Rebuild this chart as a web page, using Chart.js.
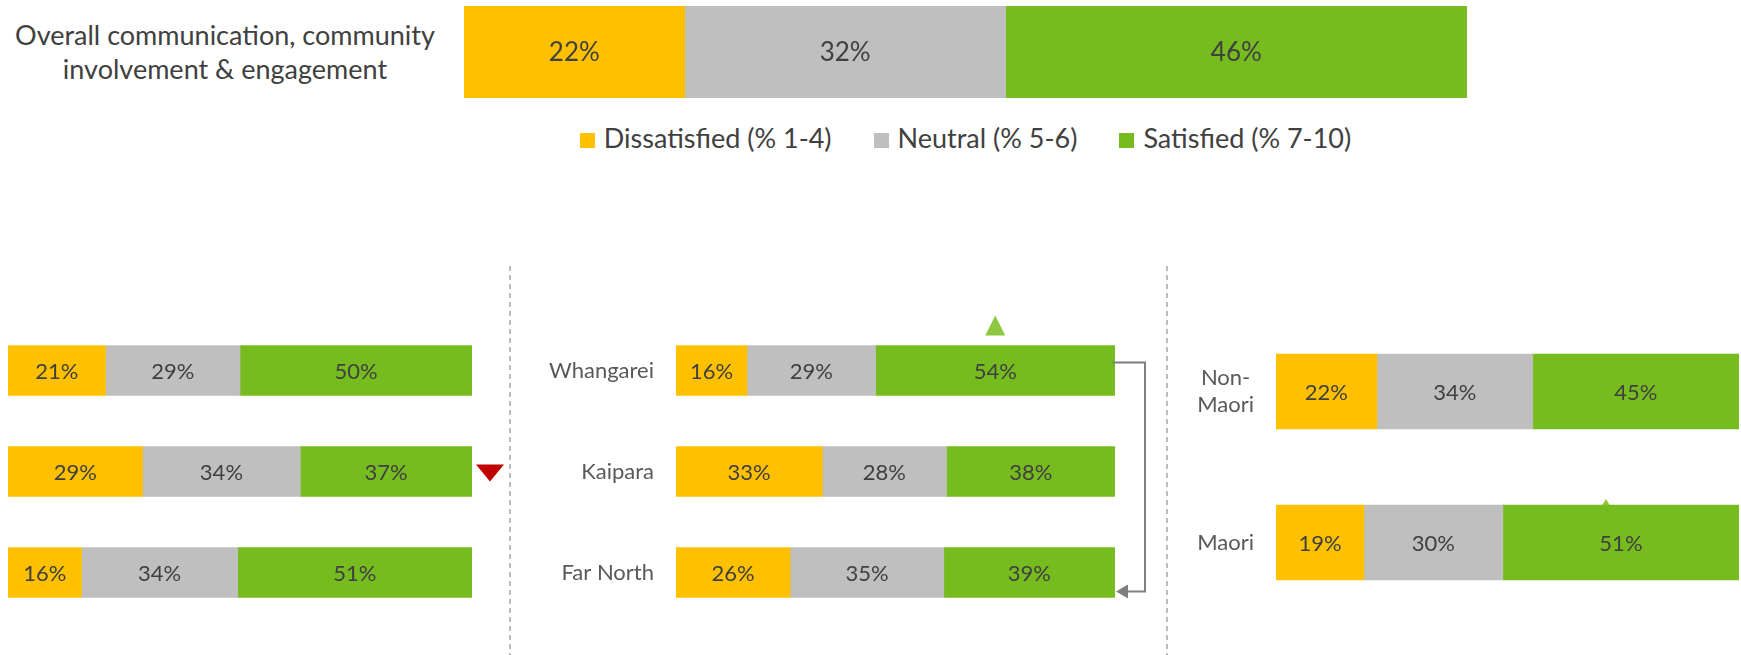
<!DOCTYPE html>
<html>
<head>
<meta charset="utf-8">
<script src="https://cdn.jsdelivr.net/npm/chart.js@4/dist/chart.umd.min.js"></script>
<style>
  body { margin: 0; background: #fff; }
  #page { position: relative; width: 1741px; height: 655px; overflow: hidden; font-family: Lato, sans-serif; color: #404040; }
  #page canvas, #page .txt { position: absolute; }
  #title { left: 0; top: 18px; width: 450px; text-align: center; font-size: 27px; line-height: 34px; }
  #legend { left: 464px; top: 123px; width: 1003px; display: flex; justify-content: center; gap: 42px; font-size: 27px; line-height: 30px; }
  #legend span.sq { display: inline-block; width: 15px; height: 15px; margin-right: 9px; vertical-align: 0px; }
</style>
</head>
<body>
<div id="page">
  <div id="title" class="txt">Overall communication, community<br>involvement &amp; engagement</div>
  <div id="legend" class="txt"></div>
  <canvas id="lines" width="1741" height="655" style="left:0;top:0"></canvas>
  <canvas id="overallChart" width="1003" height="104" style="left:464px;top:0"></canvas>
  <canvas id="leftChart" width="504" height="333" style="left:8px;top:290px"></canvas>
  <canvas id="wardChart" width="635" height="333" style="left:520px;top:290px"></canvas>
  <canvas id="ethnicChart" width="581" height="318" style="left:1160px;top:300px"></canvas>
</div>
<script>
// Data
var segments = ['Dissatisfied (% 1-4)', 'Neutral (% 5-6)', 'Satisfied (% 7-10)'];
var segmentColours = ['#FFC000', '#BFBFBF', '#77BC1F'];

var overallRows = ['Overall'];
var overallDissatisfied = [22];
var overallNeutral = [32];
var overallSatisfied = [46];

var leftRows = ['', '', ''];   // labels are not shown in the picture
var leftDissatisfied = [21, 29, 16];
var leftNeutral = [29, 34, 34];
var leftSatisfied = [50, 37, 51];

var wardRows = ['Whangarei', 'Kaipara', 'Far North'];
var wardDissatisfied = [16, 33, 26];
var wardNeutral = [29, 28, 35];
var wardSatisfied = [54, 38, 39];

var ethnicRows = [['Non-', 'Maori'], 'Maori'];
var ethnicDissatisfied = [22, 19];
var ethnicNeutral = [34, 30];
var ethnicSatisfied = [45, 51];

// legend
var legendEl = document.getElementById('legend');
segments.forEach(function(name, k) {
    var item = document.createElement('div');
    item.innerHTML = '<span class="sq" style="background:' + segmentColours[k] + '"></span>' + name;
    legendEl.appendChild(item);
});

// dashed separators
var lc = document.getElementById('lines').getContext('2d');
lc.strokeStyle = '#A6A6A6';
lc.lineWidth = 1.5;
lc.setLineDash([5, 4]);
[510, 1167].forEach(function(x) {
    lc.beginPath();
    lc.moveTo(x, 266);
    lc.lineTo(x, 655);
    lc.stroke();
});

function triangle(ctx, x, y, w, h, up, colour) {
    ctx.save();
    ctx.fillStyle = colour;
    ctx.beginPath();
    if (up) {
        ctx.moveTo(x - w / 2, y + h);
        ctx.lineTo(x + w / 2, y + h);
        ctx.lineTo(x, y);
    } else {
        ctx.moveTo(x - w / 2, y);
        ctx.lineTo(x + w / 2, y);
        ctx.lineTo(x, y + h);
    }
    ctx.closePath();
    ctx.fill();
    ctx.restore();
}

// percentage labels in the middle of each segment
function valueLabels(size) {
    return {
        id: 'valueLabels',
        afterDatasetsDraw: function(chart) {
            var ctx = chart.ctx;
            ctx.save();
            ctx.fillStyle = '#404040';
            ctx.font = size + 'px Lato';
            ctx.textAlign = 'center';
            ctx.textBaseline = 'middle';
            chart.data.datasets.forEach(function(ds, k) {
                chart.getDatasetMeta(k).data.forEach(function(bar, i) {
                    ctx.fillText(ds.raw[i] + '%', (bar.x + bar.base) / 2, bar.y + 1);
                });
            });
            ctx.restore();
        }
    };
}

function stackedBar(id, rows, dis, neu, sat, cfg) {
    var totals = rows.map(function(r, i) { return dis[i] + neu[i] + sat[i]; });
    var plugins = [valueLabels(cfg.valueSize)];
    if (cfg.marks) plugins.push({ id: 'marks', afterDatasetsDraw: cfg.marks });
    if (cfg.behind) plugins.push({ id: 'behind', beforeDatasetsDraw: cfg.behind });
    return new Chart(document.getElementById(id), {
        type: 'bar',
        data: {
            labels: rows,
            datasets: [dis, neu, sat].map(function(arr, k) {
                return {
                    label: segments[k],
                    data: arr.map(function(v, i) { return v / totals[i] * 100; }),
                    raw: arr,
                    backgroundColor: segmentColours[k],
                    borderWidth: 0,
                    barThickness: cfg.thickness
                };
            })
        },
        options: {
            indexAxis: 'y',
            responsive: false,
            animation: false,
            layout: { padding: cfg.padding },
            scales: {
                x: { stacked: true, min: 0, max: 100, display: false },
                y: {
                    stacked: true,
                    display: !!cfg.axisWidth,
                    grid: { display: false, drawTicks: false },
                    border: { display: false },
                    ticks: {
                        color: '#595959',
                        font: { family: 'Lato', size: 22, lineHeight: 1.2 },
                        padding: 22,
                        crossAlign: cfg.crossAlign || 'near'
                    },
                    afterFit: function(scale) {
                        scale.width = cfg.axisWidth || 0;
                        scale.paddingTop = 0;
                        scale.paddingBottom = 0;
                    }
                }
            },
            plugins: { legend: { display: false }, tooltip: { enabled: false } }
        },
        plugins: plugins
    });
}

stackedBar('overallChart', overallRows, overallDissatisfied, overallNeutral, overallSatisfied, {
    thickness: 92, valueSize: 26,
    padding: { top: 6, bottom: 6, left: 0, right: 0 }
});

stackedBar('leftChart', leftRows, leftDissatisfied, leftNeutral, leftSatisfied, {
    thickness: 50, valueSize: 22,
    padding: { top: 30, bottom: 0, left: 0, right: 40 },
    marks: function(chart) {
        var y = chart.scales.y.getPixelForValue(1);
        triangle(chart.ctx, chart.chartArea.right + 18, y - 7, 28, 17, false, '#C00000');
    }
});

stackedBar('wardChart', wardRows, wardDissatisfied, wardNeutral, wardSatisfied, {
    thickness: 50, valueSize: 22, axisWidth: 156,
    padding: { top: 30, bottom: 0, left: 0, right: 40 },
    marks: function(chart) {
        var ctx = chart.ctx;
        var top = chart.getDatasetMeta(2).data[0];
        triangle(ctx, (top.x + top.base) / 2, top.y - 25 - 30, 20, 20, true, '#8DC63F');
        // connector from Whangarei to Far North
        var right = chart.chartArea.right;
        var y0 = chart.scales.y.getPixelForValue(0) - 8;
        var y2 = chart.scales.y.getPixelForValue(2) + 19;
        ctx.save();
        ctx.strokeStyle = '#7F7F7F';
        ctx.lineWidth = 2;
        ctx.beginPath();
        ctx.moveTo(right - 3, y0);
        ctx.lineTo(right + 30, y0);
        ctx.lineTo(right + 30, y2);
        ctx.lineTo(right + 10, y2);
        ctx.stroke();
        ctx.fillStyle = '#7F7F7F';
        ctx.beginPath();
        ctx.moveTo(right + 1, y2);
        ctx.lineTo(right + 13, y2 - 7);
        ctx.lineTo(right + 13, y2 + 7);
        ctx.closePath();
        ctx.fill();
        ctx.restore();
    }
});

stackedBar('ethnicChart', ethnicRows, ethnicDissatisfied, ethnicNeutral, ethnicSatisfied, {
    thickness: 75, valueSize: 22, axisWidth: 116, crossAlign: 'center',
    padding: { top: 16, bottom: 0, left: 0, right: 2 },
    behind: function(chart) {
        var bar = chart.getDatasetMeta(2).data[1];
        triangle(chart.ctx, (bar.x + bar.base) / 2 - 15, bar.y - 37.5 - 6, 10, 8, true, '#8DC63F');
    }
});
</script>
</body>
</html>
